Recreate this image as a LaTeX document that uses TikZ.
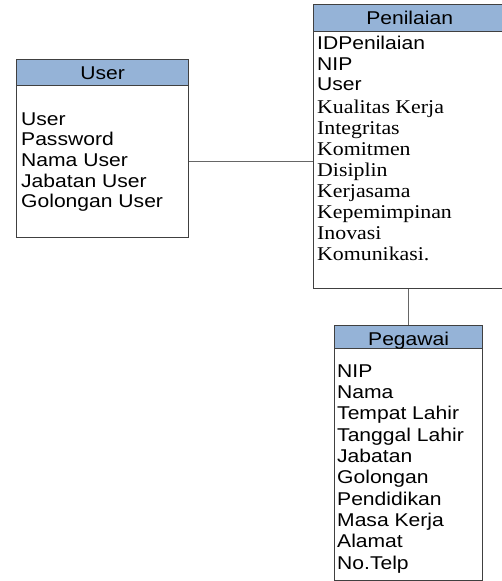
\documentclass[tikz,border=0pt]{standalone}
\usepackage{fontspec}
\setmainfont{Liberation Serif}
\newfontfamily\arialf[FakeStretch=1.14]{Liberation Sans}
\newfontfamily\timesf[FakeStretch=1.12]{Liberation Serif}
\definecolor{headblue}{RGB}{149,179,215}
\definecolor{edge}{RGB}{64,64,64}

\begin{document}
\begin{tikzpicture}[x=1pt, y=-1pt,
	box/.style = {draw=edge, line width=1.3pt, inner sep=0pt, anchor=north west},
	head/.style = {box, fill=headblue, text height=20pt, font=\arialf\fontsize{18.5}{20}\selectfont},
	attr/.style = {inner sep=0pt, anchor=base west, font=\arialf\fontsize{18.5}{20}\selectfont},
	sattr/.style = {attr, font=\timesf\fontsize{19.5}{21}\selectfont},
	link/.style = {draw=edge!80, line width=1pt}]
	\useasboundingbox (0,0) rectangle (501,581);

	% User
	\node[box, minimum width=172pt, minimum height=152pt] (userbody) at (16,85) {};
	\node[head, minimum width=172pt, minimum height=26pt, text depth=6pt] (userhead) at (16,59) {User};
	\foreach \t [count=\i] in {User,Password,Nama User,Jabatan User,Golongan User}
		\node[attr] (user-\i) at (21,{125+20.7*(\i-1)}) {\t};

	% Penilaian
	\node[box, minimum width=192pt, minimum height=257pt] (penbody) at (313,31) {};
	\node[head, minimum width=192pt, minimum height=27pt, text depth=7pt] (penhead) at (313,4) {Penilaian};
	\foreach \t [count=\i] in {IDPenilaian,NIP,User}
		\node[attr] (pen-\i) at (317,{49.3+20.7*(\i-1)}) {\t};
	\foreach \t [count=\i] in {Kualitas Kerja,Integritas,Komitmen,Disiplin,Kerjasama,Kepemimpinan,Inovasi,Komunikasi.}
		\node[sattr] (krit-\i) at (317,{113+21*(\i-1)}) {\t};

	% Pegawai
	\node[box, minimum width=148pt, minimum height=232pt] (pegbody) at (334,348) {};
	\node[head, minimum width=148pt, minimum height=23pt, text depth=3pt] (peghead) at (334,325) {Pegawai};
	\foreach \t [count=\i] in {NIP,Nama,Tempat Lahir,Tanggal Lahir,Jabatan,Golongan,Pendidikan,Masa Kerja,Alamat,No.Telp}
		\node[attr] (peg-\i) at (337,{377.3+21.33*(\i-1)}) {\t};

	\draw[link] (userbody.east) -- (userbody.east -| penbody.west);
	\draw[link] (penbody.south -| peghead.north) -- (peghead.north);

\end{tikzpicture}
\end{document}
